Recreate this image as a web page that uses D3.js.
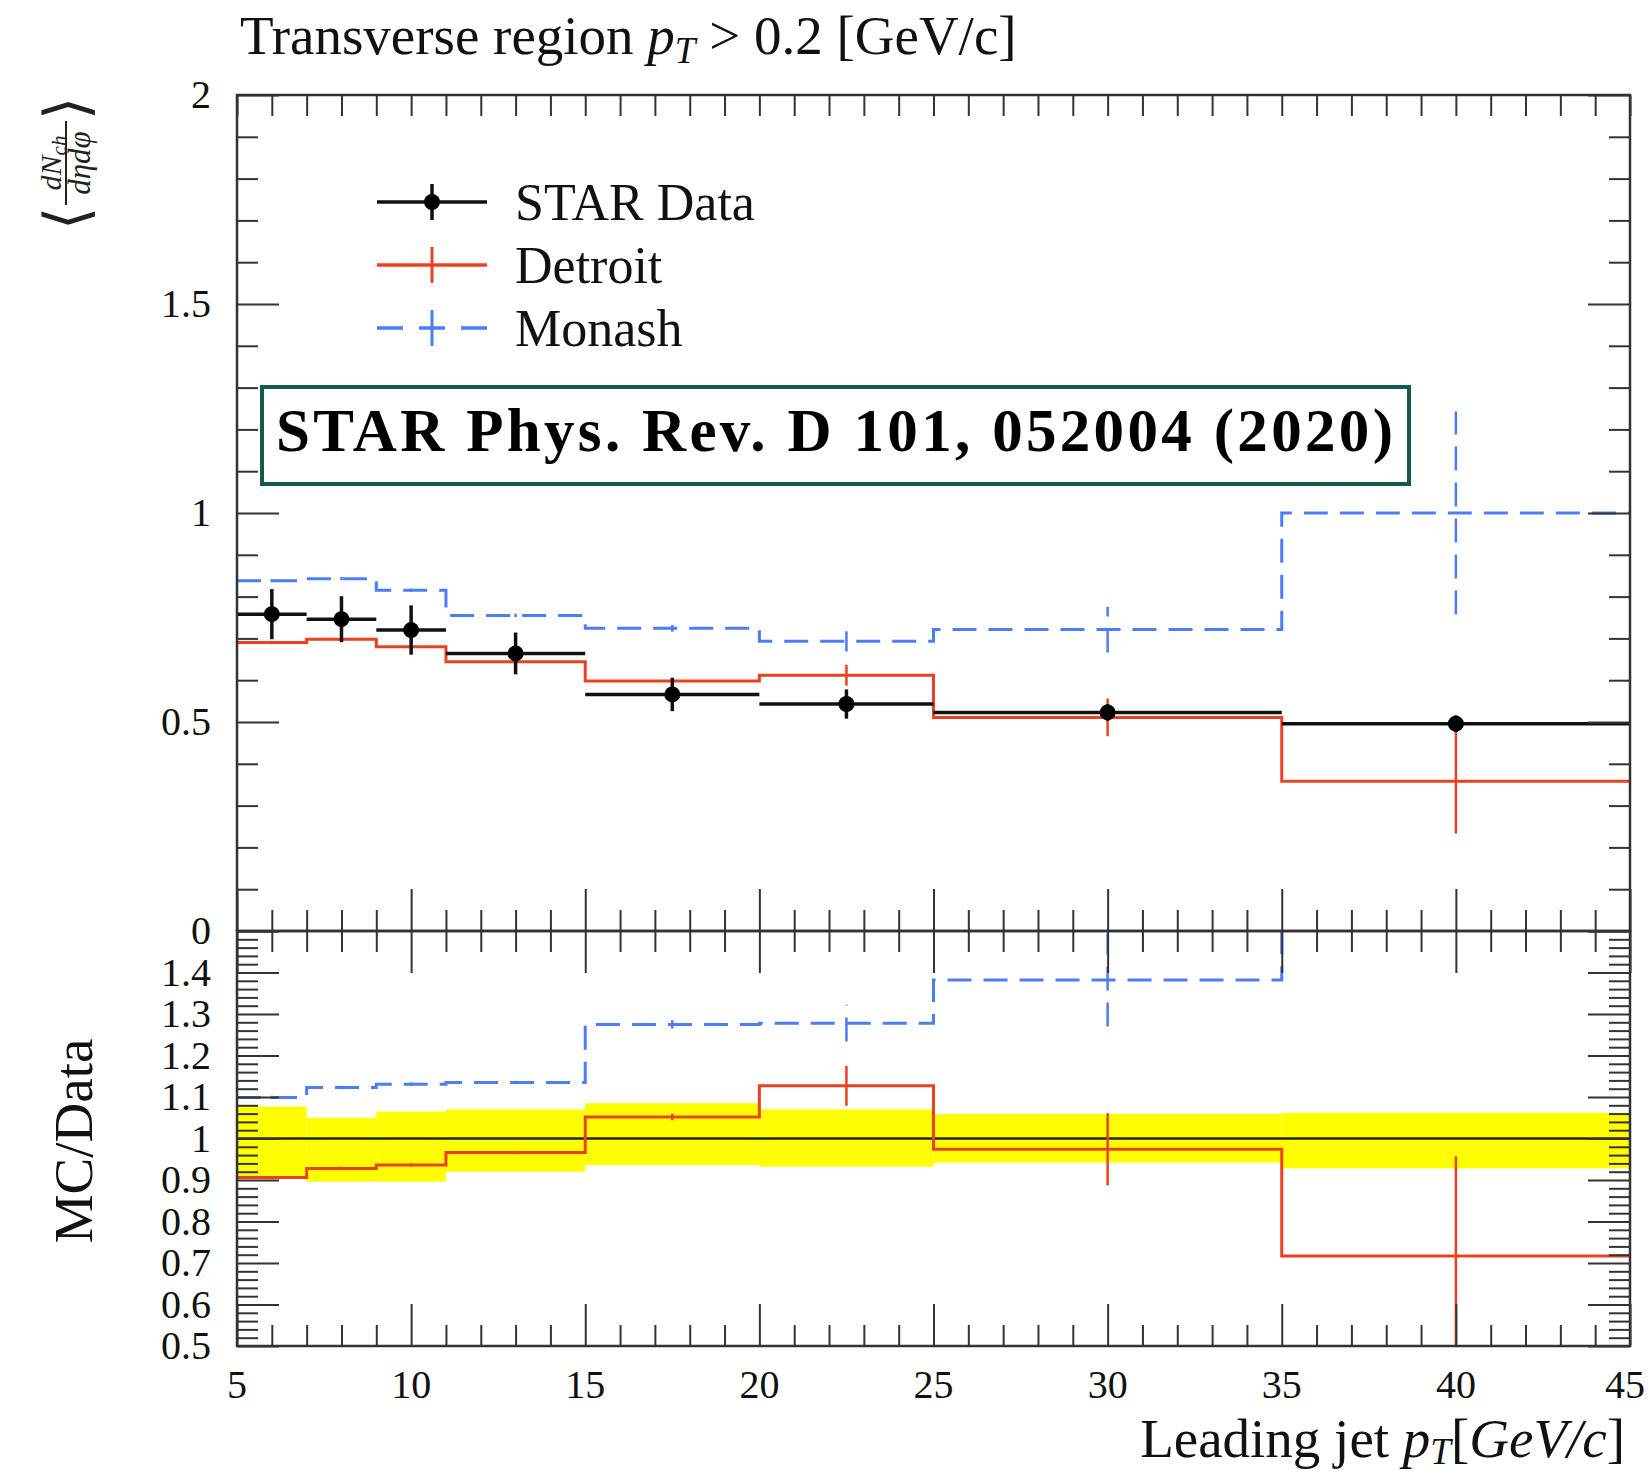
<!DOCTYPE html>
<html><head><meta charset="utf-8">
<script src="https://cdn.jsdelivr.net/npm/d3@7"></script>
<style>html,body{margin:0;padding:0;background:#fff;overflow:hidden}</style>
</head><body>
<svg id="chart" width="1649" height="1478"></svg>
<script>
// ---------------- data ----------------
const binEdges   = [5, 7, 9, 11, 15, 20, 25, 35, 45];
const binCenters = [6, 8, 10, 13, 17.5, 22.5, 30, 40];

const starValues = [0.758, 0.746, 0.720, 0.664, 0.566, 0.543, 0.523, 0.496];
const starErrors = [0.060, 0.055, 0.059, 0.050, 0.040, 0.035, 0.020, 0.020];

const detroitValues = [0.690, 0.698, 0.680, 0.644, 0.598, 0.612, 0.511, 0.358];
const detroitErrors = [0.004, 0.004, 0.004, 0.004, 0.006, 0.025, 0.045, 0.125];

const monashValues = [0.838, 0.843, 0.815, 0.755, 0.724, 0.693, 0.721, 1.000];
const monashErrors = [0.004, 0.004, 0.004, 0.004, 0.008, 0.024, 0.055, 0.243];

const bandLow  = [0.902, 0.896, 0.896, 0.920, 0.936, 0.932, 0.942, 0.928];
const bandHigh = [1.077, 1.050, 1.065, 1.070, 1.085, 1.070, 1.059, 1.062];

const detroitRatio    = [0.906, 0.928, 0.936, 0.966, 1.052, 1.127, 0.974, 0.717];
const detroitRatioErr = [0.004, 0.004, 0.004, 0.004, 0.008, 0.048, 0.087, 0.240];
const monashRatio     = [1.099, 1.123, 1.131, 1.135, 1.275, 1.278, 1.382, 2.020];
const monashRatioErr  = [0.004, 0.004, 0.004, 0.004, 0.010, 0.044, 0.112, 0.500];

const xTickValues = [5, 10, 15, 20, 25, 30, 35, 40, 45];
const xTickLabels = ["5", "10", "15", "20", "25", "30", "35", "40", "45"];
const mainTickValues = [0, 0.5, 1, 1.5, 2];
const mainTickLabels = ["0", "0.5", "1", "1.5", "2"];
const ratioTickValues = [0.5, 0.6, 0.7, 0.8, 0.9, 1.0, 1.1, 1.2, 1.3, 1.4];
const ratioTickLabels = ["0.5", "0.6", "0.7", "0.8", "0.9", "1", "1.1", "1.2", "1.3", "1.4"];

const seriesNames = ["STAR Data", "Detroit", "Monash"];
const titleText = "Transverse region ";
const citationText = "STAR Phys. Rev. D 101, 052004 (2020)";

// ---------------- layout ----------------
const W = 1649;
const X0 = 237, X1 = 1630, YT = 95, YM = 931, YB = 1346;
const RED = "#ee4020", BLUE = "#4a7df7", GREEN = "#125a4c";
const SERIF = "'Liberation Serif', 'DejaVu Serif', serif";

const svg = d3.select("#chart");
const x  = d3.scaleLinear().domain([5, 45]).range([X0, X1]);
const y  = d3.scaleLinear().domain([0, 2]).range([YM, YT]);
const yr = d3.scaleLinear().domain([0.5, 1.5]).range([YB, YM]);

const defs = svg.append("defs");
defs.append("clipPath").attr("id", "clipMain").append("rect")
  .attr("x", X0).attr("y", YT).attr("width", X1 - X0).attr("height", YM - YT);
defs.append("clipPath").attr("id", "clipRatio").append("rect")
  .attr("x", X0).attr("y", YM).attr("width", X1 - X0).attr("height", YB - YM);

// ---------------- helpers ----------------
function axisTicks(gen, tx, ty, values, size) {
  const g = svg.append("g").attr("transform", `translate(${tx},${ty})`)
    .call(gen.tickValues(values).tickSize(size).tickFormat(""));
  g.select(".domain").remove();
  g.selectAll(".tick line").attr("stroke", "#333").attr("stroke-width", 2);
  return g;
}
const xAll = d3.range(5, 46, 1);
const xMinor = xAll.filter(v => v % 5 !== 0);
const mainMinor = d3.range(0, 21).map(i => i / 10).filter(v => !mainTickValues.includes(v));
const ratioMinor = d3.range(25, 76).map(i => i / 50).filter(v => Math.abs(v * 10 - Math.round(v * 10)) > 1e-6);

function stepPoints(vals) {
  const pts = vals.map((v, i) => [binEdges[i], v]);
  pts.push([binEdges[binEdges.length - 1], vals[vals.length - 1]]);
  return pts;
}

// ---------------- ratio panel ----------------
const gR = svg.append("g").attr("clip-path", "url(#clipRatio)");
gR.selectAll("rect.band").data(bandLow).enter().append("rect")
  .attr("x", (d, i) => x(binEdges[i]))
  .attr("width", (d, i) => x(binEdges[i + 1]) - x(binEdges[i]))
  .attr("y", (d, i) => yr(bandHigh[i]))
  .attr("height", (d, i) => yr(bandLow[i]) - yr(bandHigh[i]))
  .attr("fill", "#ffff00");
gR.append("line").attr("x1", X0).attr("x2", X1).attr("y1", yr(1)).attr("y2", yr(1))
  .attr("stroke", "#222").attr("stroke-width", 2.5);

const lineR = d3.line().x(d => x(d[0])).y(d => yr(d[1])).curve(d3.curveStepAfter);
gR.append("path").attr("d", lineR(stepPoints(monashRatio)))
  .attr("fill", "none").attr("stroke", BLUE).attr("stroke-width", 3).attr("stroke-dasharray", "24,12");
gR.selectAll("line.mre").data(monashRatio).enter().append("line")
  .attr("x1", (d, i) => x(binCenters[i])).attr("x2", (d, i) => x(binCenters[i]))
  .attr("y1", (d, i) => yr(d - monashRatioErr[i])).attr("y2", (d, i) => yr(d + monashRatioErr[i]))
  .attr("stroke", BLUE).attr("stroke-width", 2.5).attr("stroke-dasharray", "24,12");
gR.append("path").attr("d", lineR(stepPoints(detroitRatio)))
  .attr("fill", "none").attr("stroke", RED).attr("stroke-width", 3);
gR.selectAll("line.dre").data(detroitRatio).enter().append("line")
  .attr("x1", (d, i) => x(binCenters[i])).attr("x2", (d, i) => x(binCenters[i]))
  .attr("y1", (d, i) => yr(d - detroitRatioErr[i])).attr("y2", (d, i) => yr(d + detroitRatioErr[i]))
  .attr("stroke", RED).attr("stroke-width", 2.5);

// ---------------- main panel ----------------
const gM = svg.append("g").attr("clip-path", "url(#clipMain)");
const lineM = d3.line().x(d => x(d[0])).y(d => y(d[1])).curve(d3.curveStepAfter);
gM.append("path").attr("d", lineM(stepPoints(monashValues)))
  .attr("fill", "none").attr("stroke", BLUE).attr("stroke-width", 3).attr("stroke-dasharray", "24,12");
gM.selectAll("line.me").data(monashValues).enter().append("line")
  .attr("x1", (d, i) => x(binCenters[i])).attr("x2", (d, i) => x(binCenters[i]))
  .attr("y1", (d, i) => y(d - monashErrors[i])).attr("y2", (d, i) => y(d + monashErrors[i]))
  .attr("stroke", BLUE).attr("stroke-width", 2.5).attr("stroke-dasharray", "24,12");
gM.append("path").attr("d", lineM(stepPoints(detroitValues)))
  .attr("fill", "none").attr("stroke", RED).attr("stroke-width", 3);
gM.selectAll("line.de").data(detroitValues).enter().append("line")
  .attr("x1", (d, i) => x(binCenters[i])).attr("x2", (d, i) => x(binCenters[i]))
  .attr("y1", (d, i) => y(d - detroitErrors[i])).attr("y2", (d, i) => y(d + detroitErrors[i]))
  .attr("stroke", RED).attr("stroke-width", 2.5);
gM.selectAll("line.sh").data(starValues).enter().append("line")
  .attr("x1", (d, i) => x(binEdges[i])).attr("x2", (d, i) => x(binEdges[i + 1]))
  .attr("y1", d => y(d)).attr("y2", d => y(d))
  .attr("stroke", "#111").attr("stroke-width", 3.5);
gM.selectAll("line.se").data(starValues).enter().append("line")
  .attr("x1", (d, i) => x(binCenters[i])).attr("x2", (d, i) => x(binCenters[i]))
  .attr("y1", (d, i) => y(d - starErrors[i])).attr("y2", (d, i) => y(d + starErrors[i]))
  .attr("stroke", "#111").attr("stroke-width", 3.5);
gM.selectAll("circle.sd").data(starValues).enter().append("circle")
  .attr("cx", (d, i) => x(binCenters[i])).attr("cy", d => y(d)).attr("r", 8).attr("fill", "#000");

// ---------------- frames & ticks ----------------
axisTicks(d3.axisBottom(x), 0, YT, xAll, 21);
axisTicks(d3.axisTop(x), 0, YM, xTickValues, 42);
axisTicks(d3.axisTop(x), 0, YM, xMinor, 21);
axisTicks(d3.axisRight(y), X0, 0, mainTickValues, 42);
axisTicks(d3.axisRight(y), X0, 0, mainMinor, 21);
axisTicks(d3.axisLeft(y), X1, 0, mainTickValues, 42);
axisTicks(d3.axisLeft(y), X1, 0, mainMinor, 21);
axisTicks(d3.axisBottom(x), 0, YM, xTickValues, 42);
axisTicks(d3.axisBottom(x), 0, YM, xMinor, 21);
axisTicks(d3.axisTop(x), 0, YB, xTickValues, 42);
axisTicks(d3.axisTop(x), 0, YB, xMinor, 21);
axisTicks(d3.axisRight(yr), X0, 0, ratioTickValues.concat([1.5]), 42);
axisTicks(d3.axisRight(yr), X0, 0, ratioMinor, 21);
axisTicks(d3.axisLeft(yr), X1, 0, ratioTickValues.concat([1.5]), 42);
axisTicks(d3.axisLeft(yr), X1, 0, ratioMinor, 21);

svg.append("rect").attr("x", X0).attr("y", YT).attr("width", X1 - X0).attr("height", YM - YT)
  .attr("fill", "none").attr("stroke", "#333").attr("stroke-width", 2.5);
svg.append("rect").attr("x", X0).attr("y", YM).attr("width", X1 - X0).attr("height", YB - YM)
  .attr("fill", "none").attr("stroke", "#333").attr("stroke-width", 2.5);

// ---------------- tick labels ----------------
const lab = svg.append("g").attr("font-family", SERIF).attr("fill", "#111");
lab.selectAll("text.xl").data(xTickValues).enter().append("text")
  .attr("x", d => Math.min(x(d), W - 24)).attr("y", 1398).attr("text-anchor", "middle").attr("font-size", 40)
  .text((d, i) => xTickLabels[i]);
lab.selectAll("text.yl").data(mainTickValues).enter().append("text")
  .attr("x", 211).attr("y", d => y(d) + 13).attr("text-anchor", "end").attr("font-size", 40)
  .text((d, i) => mainTickLabels[i]);
lab.selectAll("text.rl").data(ratioTickValues).enter().append("text")
  .attr("x", 211).attr("y", d => yr(d) + 13).attr("text-anchor", "end").attr("font-size", 40)
  .text((d, i) => ratioTickLabels[i]);

// ---------------- titles ----------------
const t = svg.append("text").attr("x", 240).attr("y", 54).attr("font-family", SERIF)
  .attr("font-size", 55).attr("fill", "#111");
t.append("tspan").text(titleText);
t.append("tspan").attr("font-style", "italic").text("p");
t.append("tspan").attr("font-style", "italic").attr("font-size", 37).attr("dy", 9).text("T");
t.append("tspan").attr("dy", -9).text(" > 0.2 [GeV/c]");

const xl = svg.append("text").attr("x", 1625).attr("y", 1457).attr("text-anchor", "end")
  .attr("font-family", SERIF).attr("font-size", 55).attr("fill", "#111");
xl.append("tspan").text("Leading jet ");
xl.append("tspan").attr("font-style", "italic").text("p");
xl.append("tspan").attr("font-style", "italic").attr("font-size", 37).attr("dy", 7).text("T");
xl.append("tspan").attr("dy", -7).text("[");
xl.append("tspan").attr("font-style", "italic").text("GeV/c");
xl.append("tspan").text("]");

svg.append("text").attr("transform", "translate(92,1141) rotate(-90)")
  .attr("text-anchor", "middle").attr("font-family", SERIF).attr("font-size", 55).attr("fill", "#111")
  .text("MC/Data");

// y label of main panel: < dN_ch / dη dφ >
const yl = svg.append("g").attr("transform", "translate(66,163) rotate(-90)")
  .attr("font-family", SERIF).attr("fill", "#222");
yl.append("text").attr("x", -55).attr("y", 0).attr("dominant-baseline", "central")
  .attr("text-anchor", "middle").attr("font-size", 60).attr("font-family", "'DejaVu Sans', sans-serif")
  .attr("font-weight", 200).text("⟨");
yl.append("text").attr("x", 55).attr("y", 0).attr("dominant-baseline", "central")
  .attr("text-anchor", "middle").attr("font-size", 60).attr("font-family", "'DejaVu Sans', sans-serif")
  .attr("font-weight", 200).text("⟩");
const num = yl.append("text").attr("x", 0).attr("y", -5).attr("text-anchor", "middle")
  .attr("font-size", 30).attr("font-style", "italic");
num.append("tspan").text("dN");
num.append("tspan").attr("font-size", 21).attr("dy", 5).text("ch");
yl.append("line").attr("x1", -42).attr("x2", 42).attr("y1", 0).attr("y2", 0)
  .attr("stroke", "#222").attr("stroke-width", 2);
yl.append("text").attr("x", 0).attr("y", 24).attr("text-anchor", "middle")
  .attr("font-size", 31).attr("font-style", "italic").text("dηdφ");

// ---------------- legend ----------------
const legY = [202, 265, 328];
const lg = svg.append("g");
lg.append("line").attr("x1", 377).attr("x2", 487).attr("y1", legY[0]).attr("y2", legY[0])
  .attr("stroke", "#111").attr("stroke-width", 3.5);
lg.append("line").attr("x1", 432).attr("x2", 432).attr("y1", legY[0] - 18).attr("y2", legY[0] + 18)
  .attr("stroke", "#111").attr("stroke-width", 3.5);
lg.append("circle").attr("cx", 432).attr("cy", legY[0]).attr("r", 8).attr("fill", "#000");
lg.append("line").attr("x1", 377).attr("x2", 487).attr("y1", legY[1]).attr("y2", legY[1])
  .attr("stroke", RED).attr("stroke-width", 3.5);
lg.append("line").attr("x1", 432).attr("x2", 432).attr("y1", legY[1] - 18).attr("y2", legY[1] + 18)
  .attr("stroke", RED).attr("stroke-width", 3);
lg.append("line").attr("x1", 377).attr("x2", 487).attr("y1", legY[2]).attr("y2", legY[2])
  .attr("stroke", BLUE).attr("stroke-width", 3.5).attr("stroke-dasharray", "26,16,26,16,26");
lg.append("line").attr("x1", 432).attr("x2", 432).attr("y1", legY[2] - 18).attr("y2", legY[2] + 18)
  .attr("stroke", BLUE).attr("stroke-width", 3);
lg.selectAll("text").data(seriesNames).enter().append("text")
  .attr("x", 515).attr("y", (d, i) => legY[i] + 18)
  .attr("font-family", SERIF).attr("font-size", 52).attr("fill", "#111").text(d => d);

// ---------------- citation box ----------------
svg.append("rect").attr("x", 262).attr("y", 387).attr("width", 1147).attr("height", 97)
  .attr("fill", "#fff").attr("stroke", GREEN).attr("stroke-width", 4);
svg.append("text").attr("x", 276).attr("y", 451).attr("font-family", SERIF).attr("font-weight", "bold")
  .attr("font-size", 61).attr("fill", "#000").attr("textLength", 1117).attr("lengthAdjust", "spacing")
  .text(citationText);
</script>
</body></html>
